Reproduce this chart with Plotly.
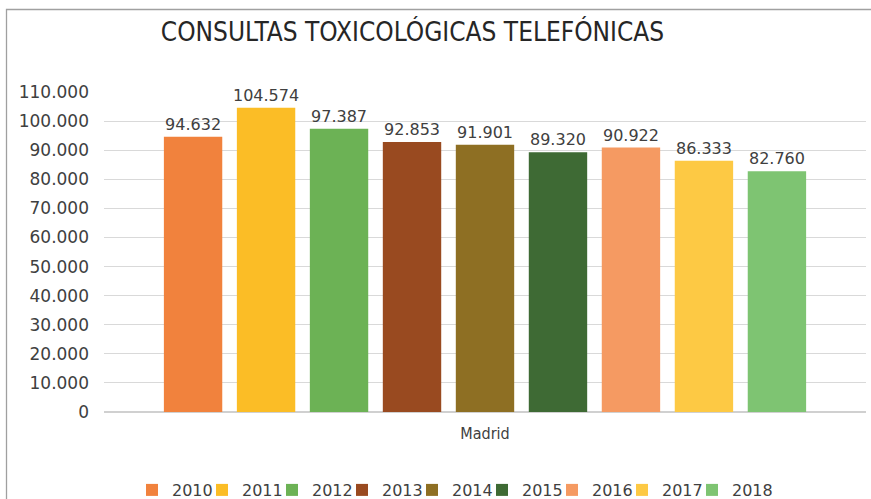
import plotly.graph_objects as go

categories = ["Madrid"]
years = ["2010", "2011", "2012", "2013", "2014", "2015", "2016", "2017", "2018"]
values = [94632, 104574, 97387, 92853, 91901, 89320, 90922, 86333, 82760]
colors = ["#F1823D", "#FBBD26", "#6CB255", "#994A20", "#8E6F23",
          "#3E6A34", "#F59A62", "#FDC944", "#7EC472"]
title_text = "CONSULTAS TOXICOLÓGICAS TELEFÓNICAS"

W, H = 871, 499
ML, MR, MT, MB = 104, 5, 92, 87
PW = W - ML - MR
PH = H - MT - MB

def px_x(px):
    return (px - ML) / PW

def px_y(py):
    return (H - MB - py) / PH

fig = go.Figure()
for yr, v, c in zip(years, values, colors):
    fig.add_trace(go.Bar(
        name=yr, x=categories, y=[v], marker=dict(color=c, line=dict(width=0)),
        text=[v], texttemplate="%{y:,.0f}", textposition="outside",
        textfont=dict(family="DejaVu Sans", size=16, color="#404040"),
        cliponaxis=False, constraintext="none",
    ))

# invisible trailing legend slot so the last legend label is not clipped
fig.add_trace(go.Scatter(x=categories, y=[0], mode="markers", name=" ",
                         marker=dict(color="rgba(0,0,0,0)", size=1),
                         showlegend=True, hoverinfo="skip"))

fig.update_layout(
    width=W, height=H,
    margin=dict(l=ML, r=MR, t=MT, b=MB, autoexpand=False),
    paper_bgcolor="white", plot_bgcolor="white",
    separators=",.",
    barmode="group", bargap=0.138, bargroupgap=0.2,
    title=dict(text=title_text, x=412.5 / W, xref="container", xanchor="center",
               y=1 - 32 / H, yref="container", yanchor="middle",
               font=dict(family="DejaVu Sans Condensed", size=26, color="#262626")),
    showlegend=True,
    legend=dict(orientation="h", x=132 / W, xref="container", xanchor="left",
                y=1 - 490 / H, yref="container", yanchor="middle",
                entrywidth=25, entrywidthmode="pixels",
                font=dict(family="DejaVu Sans", size=16, color="#404040"),
                traceorder="normal"),
    xaxis=dict(showgrid=False, showline=False, ticks="", automargin=False,
               ticklabelstandoff=10,
               tickfont=dict(family="DejaVu Sans Condensed", size=16, color="#404040")),
    yaxis=dict(range=[0, 110000], dtick=10000, tickformat=",.0f", automargin=False,
               showgrid=True, gridcolor="#D9D9D9", gridwidth=1,
               zeroline=True, zerolinecolor="#D0D0D0", zerolinewidth=1.5,
               ticks="", ticklabelstandoff=14,
               tickfont=dict(family="DejaVu Sans", size=17, color="#404040")),
    shapes=[dict(type="rect", xref="paper", yref="paper",
                 x0=px_x(6.5), x1=px_x(W + 20), y0=px_y(9.5), y1=px_y(H + 20),
                 line=dict(color="#A0A0A0", width=1.3), layer="below")],
)

fig.write_html("out.html", config={"displayModeBar": False},
               post_script="document.body.style.margin='0';document.body.style.overflow='hidden';")
